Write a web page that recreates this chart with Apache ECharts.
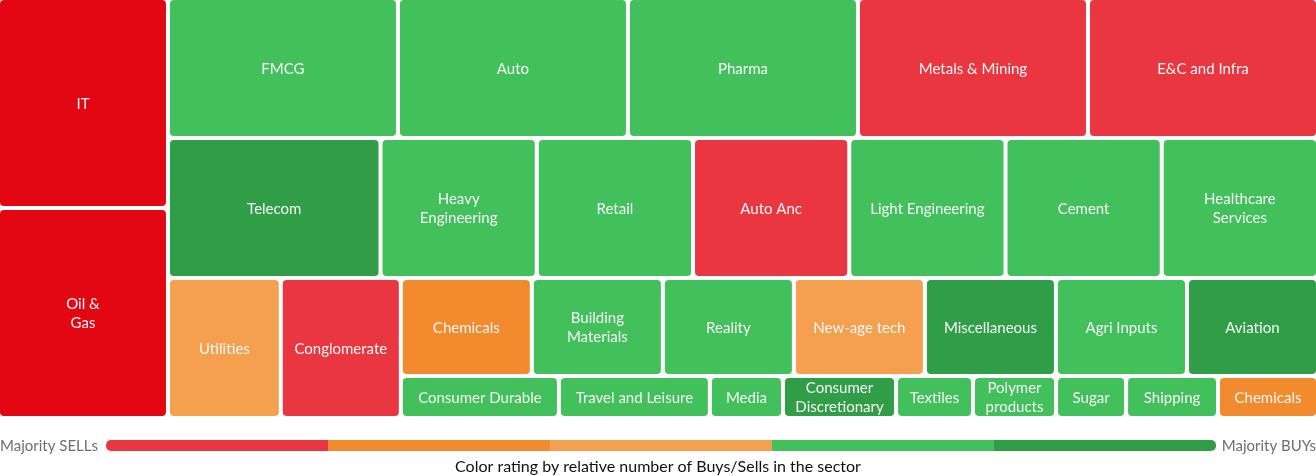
<!DOCTYPE html>
<html>
<head>
<meta charset="utf-8">
<script src="https://cdn.jsdelivr.net/npm/echarts@6/dist/echarts.min.js"></script>
<style>
  html, body { margin: 0; padding: 0; background: #fff; }
  #chart { width: 1316px; height: 476px; }
</style>
</head>
<body>
<div id="chart"></div>
<script>
// ---- Data (names, size values, colour rating 0..5) ----
// rating: 0 = strong sell, 1 = sell, 2 = mild sell, 3 = neutral-sell, 4 = buy, 5 = strong buy
const leftNames   = ['IT', 'Oil &\nGas'];
const leftValues  = [357, 357];
const leftRatings = [0, 0];

const row1Names   = ['FMCG', 'Auto', 'Pharma', 'Metals & Mining', 'E&C and Infra'];
const row1Values  = [322, 322, 322, 322, 322];
const row1Ratings = [4, 4, 4, 1, 1];

const row2Names   = ['Telecom', 'Heavy\nEngineering', 'Retail', 'Auto Anc', 'Light Engineering', 'Cement', 'Healthcare\nServices'];
const row2Values  = [298, 219, 219, 219, 219, 219, 219];
const row2Ratings = [5, 4, 4, 1, 4, 4, 4];

const row3Names   = ['Utilities', 'Conglomerate'];
const row3Values  = [158, 168];
const row3Ratings = [3, 1];

const row3aNames   = ['Chemicals', 'Building\nMaterials', 'Reality', 'New-age tech', 'Miscellaneous', 'Agri Inputs', 'Aviation'];
const row3aValues  = [128.4, 128.4, 128.4, 128.4, 128.4, 128.4, 128.4];
const row3aRatings = [2, 4, 4, 3, 5, 4, 5];

const row3bNames   = ['Consumer Durable', 'Travel and Leisure', 'Media', 'Consumer\nDiscretionary', 'Textiles', 'Polymer\nproducts', 'Sugar', 'Shipping', 'Chemicals'];
const row3bValues  = [66.4, 63.4, 30.7, 47.5, 32.3, 34.9, 29.4, 38.6, 42];
const row3bRatings = [4, 4, 4, 5, 4, 4, 4, 4, 2];

const ratingColors = ['#E30613', '#E93641', '#F28B2D', '#F5A04F', '#42C05B', '#2F9E47'];
const legendRatings = [1, 2, 3, 4, 5];
const legendLeft = 'Majority SELLs';
const legendRight = 'Majority BUYs';
const footnote = 'Color rating by relative number of Buys/Sells in the sector';

// ---- Build hierarchy ----
function leaves(names, values, ratings) {
  return names.map((n, i) => ({ name: n, value: values[i], rating: ratings[i] }));
}
const tree = {
  dir: 'h', children: [
    { dir: 'v', children: leaves(leftNames, leftValues, leftRatings) },
    { dir: 'v', children: [
      { dir: 'h', children: leaves(row1Names, row1Values, row1Ratings) },
      { dir: 'h', children: leaves(row2Names, row2Values, row2Ratings) },
      { dir: 'h', children: leaves(row3Names, row3Values, row3Ratings).concat([
        { dir: 'v', children: [
          { dir: 'h', children: leaves(row3aNames, row3aValues, row3aRatings) },
          { dir: 'h', children: leaves(row3bNames, row3bValues, row3bRatings) }
        ]}
      ])}
    ]}
  ]
};
function total(node) {
  return node.children ? node.children.reduce((s, c) => s + total(c), 0) : node.value;
}
// slice-and-dice layout in normalised value space [0,1] x [0,1]
const cells = [];
function layout(node, x0, y0, x1, y1) {
  if (!node.children) {
    cells.push([x0, y0, x1, y1, node.name, node.rating]);
    return;
  }
  const t = total(node);
  let acc = 0;
  node.children.forEach(c => {
    const f0 = acc / t;
    acc += total(c);
    const f1 = acc / t;
    if (node.dir === 'h') layout(c, x0 + (x1 - x0) * f0, y0, x0 + (x1 - x0) * f1, y1);
    else layout(c, x0, y0 + (y1 - y0) * f0, x1, y0 + (y1 - y0) * f1);
  });
}
layout(tree, 0, 0, 1, 1);

const GAP = 4;
const FONT = 'Lato, "Noto Sans", sans-serif';

const chart = echarts.init(document.getElementById('chart'));

const legendX0 = 106, legendX1 = 1216, legendY = 440, legendH = 11;
const segW = (legendX1 - legendX0) / legendRatings.length;
const legendEls = legendRatings.map((r, i) => ({
  type: 'rect',
  shape: {
    x: legendX0 + i * segW, y: legendY, width: segW + (i < legendRatings.length - 1 ? 0.5 : 0), height: legendH,
    r: i === 0 ? [5, 0, 0, 5] : (i === legendRatings.length - 1 ? [0, 5, 5, 0] : 0)
  },
  style: { fill: ratingColors[r] },
  silent: true
}));
legendEls.push({
  type: 'text', left: 0, top: legendY - 1,
  style: { text: legendLeft, fill: '#6e6e6e', font: '15px ' + FONT }
});
legendEls.push({
  type: 'text', right: 0, top: legendY - 1,
  style: { text: legendRight, fill: '#6e6e6e', font: '15px ' + FONT }
});
legendEls.push({
  type: 'text', left: 'center', top: 459,
  style: { text: footnote, fill: '#111111', font: '16px ' + FONT }
});

chart.setOption({
  animation: false,
  grid: { left: 0, top: 0, width: 1316, height: 420 },
  // 0..1 of the layout spans 1320px (the last 4px are the trailing gap, off canvas)
  xAxis: { type: 'value', min: 0, max: 1316 / 1320, show: false },
  yAxis: { type: 'value', min: 0, max: 1, inverse: true, show: false },
  graphic: legendEls,
  series: [{
    type: 'custom',
    coordinateSystem: 'cartesian2d',
    clip: false,
    encode: { x: [0, 2], y: [1, 3] },
    data: cells,
    renderItem: function (params, api) {
      const p0 = api.coord([api.value(0), api.value(1)]);
      const p1 = api.coord([api.value(2), api.value(3)]);
      const name = cells[params.dataIndex][4];
      const rating = api.value(5);
      const w = p1[0] - p0[0] - GAP;
      const h = p1[1] - p0[1] - GAP;
      return {
        type: 'group',
        children: [{
          type: 'rect',
          shape: { x: p0[0], y: p0[1], width: w, height: h, r: 4 },
          style: { fill: ratingColors[rating] }
        }, {
          type: 'text',
          x: p0[0] + w / 2,
          y: p0[1] + h / 2 + 1,
          style: {
            text: name, fill: '#f7f7f7', font: '15px ' + FONT,
            align: 'center', verticalAlign: 'middle', lineHeight: 19
          }
        }]
      };
    }
  }]
});
</script>
</body>
</html>
